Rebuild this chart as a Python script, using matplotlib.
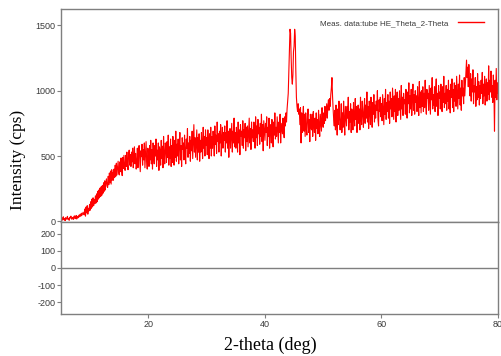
import numpy as np
import matplotlib
matplotlib.use("Agg")
import matplotlib.pyplot as plt

plt.rcParams["axes.unicode_minus"] = False

two_theta_start = 5.0
two_theta_step = 0.1
intensity = [
    18, 30, 9, 25, 35, 12, 22, 5, 28, 16,
    24, 38, 14, 20, 8, 31, 26, 40, 17, 22,
    30, 15, 36, 42, 20, 27, 45, 18, 33, 39,
    28, 48, 36, 55, 40, 62, 47, 58, 70, 52,
    50, 95, 40, 110, 65, 120, 55, 100, 80, 130,
    85, 150, 100, 170, 110, 180, 120, 165, 135, 195,
    140, 210, 150, 230, 170, 240, 180, 255, 190, 265,
    200, 275, 215, 295, 230, 310, 240, 300, 325, 270,
    260, 345, 280, 370, 295, 385, 285, 395, 315, 375,
    315, 400, 335, 430, 345, 445, 355, 410, 460, 370,
    355, 455, 380, 485, 395, 350, 490, 405, 505, 410,
    390, 505, 420, 530, 440, 395, 515, 545, 430, 510,
    420, 530, 455, 560, 410, 505, 570, 440, 520, 400,
    450, 560, 410, 520, 580, 470, 380, 540, 495, 590,
    430, 550, 470, 600, 410, 520, 610, 460, 400, 560,
    530, 420, 580, 470, 620, 440, 550, 400, 600, 500,
    440, 580, 500, 630, 420, 545, 470, 600, 390, 570,
    540, 430, 620, 480, 575, 410, 650, 500, 440, 600,
    560, 450, 610, 490, 660, 430, 570, 480, 630, 420,
    580, 450, 650, 520, 430, 620, 490, 690, 460, 590,
    500, 630, 440, 590, 680, 470, 580, 420, 640, 550,
    600, 470, 660, 530, 440, 630, 560, 710, 490, 600,
    520, 650, 460, 620, 540, 690, 480, 610, 740, 530,
    640, 490, 600, 700, 470, 640, 530, 670, 460, 620,
    530, 680, 600, 480, 720, 560, 650, 500, 700, 580,
    640, 510, 700, 600, 480, 670, 560, 720, 500, 650,
    560, 690, 620, 500, 730, 590, 660, 520, 760, 610,
    670, 530, 690, 600, 740, 500, 640, 720, 560, 680,
    620, 730, 530, 680, 600, 770, 560, 690, 490, 650,
    710, 560, 660, 750, 530, 690, 600, 790, 570, 680,
    560, 720, 640, 530, 760, 600, 700, 510, 740, 650,
    690, 580, 770, 560, 700, 640, 750, 540, 720, 610,
    730, 570, 690, 790, 600, 710, 550, 760, 640, 700,
    610, 760, 680, 560, 800, 640, 730, 580, 780, 670,
    720, 590, 750, 650, 820, 610, 740, 540, 770, 690,
    620, 750, 680, 800, 580, 720, 650, 790, 560, 710,
    740, 600, 780, 690, 570, 760, 660, 830, 630, 720,
    650, 800, 700, 600, 760, 680, 820, 600, 750, 710,
    670, 790, 700, 640, 800, 730, 830, 760, 860, 920,
    980, 1150, 1300, 1470, 1440, 1250, 1100, 1050, 1120, 1300,
    1340, 1470, 1420, 1150, 950, 880, 840, 900, 820, 860,
    740, 870, 600, 830, 680, 800, 880, 690, 820, 650,
    830, 710, 660, 800, 860, 680, 780, 610, 820, 720,
    700, 820, 650, 840, 730, 680, 790, 620, 830, 710,
    780, 670, 850, 730, 650, 820, 760, 690, 870, 760,
    720, 830, 750, 880, 770, 840, 900, 790, 880, 930,
    850, 940, 880, 970, 1020, 1100, 960, 860, 780, 730,
    850, 700, 890, 760, 660, 860, 740, 920, 790, 700,
    780, 900, 680, 830, 720, 920, 770, 660, 880, 800,
    730, 880, 790, 950, 700, 840, 760, 900, 680, 860,
    820, 700, 910, 810, 730, 940, 780, 880, 680, 850,
    890, 750, 860, 700, 950, 800, 740, 920, 830, 720,
    860, 940, 750, 890, 790, 990, 760, 880, 710, 920,
    840, 740, 950, 860, 720, 910, 820, 970, 760, 890,
    790, 920, 850, 1000, 780, 730, 930, 840, 950, 800,
    900, 770, 970, 860, 740, 940, 820, 1010, 780, 910,
    840, 970, 790, 920, 750, 990, 860, 940, 800, 1020,
    900, 780, 960, 840, 1010, 760, 920, 990, 810, 940,
    850, 1000, 880, 780, 1040, 860, 950, 810, 980, 900,
    930, 820, 1010, 880, 790, 990, 900, 1060, 830, 960,
    860, 1010, 810, 950, 1050, 850, 970, 820, 1000, 910,
    960, 840, 1030, 900, 810, 1070, 870, 990, 830, 1000,
    880, 1030, 840, 980, 870, 1080, 900, 820, 1010, 940,
    980, 850, 1040, 920, 820, 1020, 930, 1100, 860, 970,
    890, 1030, 840, 1000, 1090, 880, 980, 810, 1040, 940,
    990, 860, 1050, 930, 840, 1030, 910, 1110, 870, 980,
    900, 1040, 850, 1010, 920, 1080, 860, 1000, 830, 1050,
    950, 1090, 870, 1010, 840, 1060, 920, 1040, 880, 1110,
    990, 860, 1050, 940, 1120, 890, 1020, 850, 1080, 960,
    1020, 900, 1100, 960, 1050, 1150, 1234, 1100, 1180, 1030,
    1200, 1060, 960, 1130, 920, 1090, 990, 1160, 900, 1040,
    990, 1100, 880, 1030, 930, 1130, 950, 1070, 890, 1040,
    940, 1080, 980, 1140, 900, 1050, 960, 1110, 890, 1030,
    1090, 920, 1060, 970, 1190, 930, 1080, 990, 1150, 950,
    1040, 910, 1120, 990, 690, 1080, 950, 1170, 930, 1060,
    980,
]
two_theta = two_theta_start + two_theta_step * np.arange(len(intensity))

main_yticks = [0, 500, 1000, 1500]
diff_yticks = [200, 100, 0, -100, -200]
x_ticks = [20, 40, 60, 80]
legend_label = "Meas. data:tube HE_Theta_2-Theta"

GRAY = "#7f7f7f"
TXT = "#3a3a3a"

fig = plt.figure(figsize=(5.01, 3.56), dpi=100)
ax = fig.add_axes([0.1218, 0.3764, 0.8722, 0.5983])
ax2 = fig.add_axes([0.1218, 0.118, 0.8722, 0.2584], sharex=ax)

ax.plot(two_theta, intensity, color="#ff0000", lw=0.8, label=legend_label)
ax.set_xlim(5, 80)
ax.set_ylim(-5, 1625)
ax.set_yticks(main_yticks)
ax.tick_params(axis="x", which="both", bottom=False, labelbottom=False)
ax.tick_params(axis="y", direction="out", length=3, width=0.8, color=GRAY,
               labelsize=6.5, labelcolor=TXT, pad=1)

ax2.axhline(0, color=GRAY, lw=1.0)
ax2.set_ylim(-270, 270)
ax2.set_yticks(diff_yticks)
ax2.set_xticks(x_ticks)
ax2.tick_params(axis="both", direction="out", length=3, width=0.8, color=GRAY,
                labelsize=6.5, labelcolor=TXT, pad=1)

for a in (ax, ax2):
    for s in a.spines.values():
        s.set_color(GRAY)
        s.set_linewidth(1.0)
    for lab in a.get_xticklabels() + a.get_yticklabels():
        lab.set_fontfamily("Liberation Sans")

leg = ax.legend(loc="upper right", frameon=False, markerfirst=False,
                prop={"family": "Liberation Sans", "size": 5.8},
                handlelength=3.2, handletextpad=1.2,
                bbox_to_anchor=(0.985, 0.985), labelcolor=TXT)
for h in leg.get_lines():
    h.set_linewidth(1.0)

fig.text(0.036, 0.55, "Intensity (cps)", rotation=90, ha="center", va="center",
         fontfamily="Liberation Serif", fontsize=12.5)
fig.text(0.54, 0.03, "2-theta (deg)", ha="center", va="center",
         fontfamily="Liberation Serif", fontsize=13)

fig.savefig("out.png", dpi=100)
